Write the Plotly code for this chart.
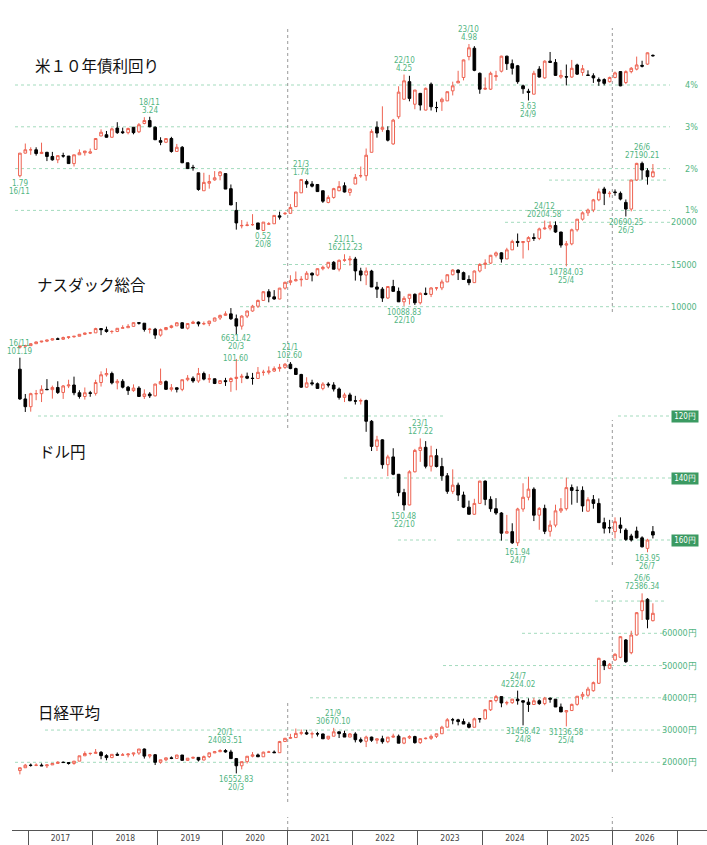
import plotly.graph_objects as go

# ---------------- categories ----------------
months = [f"{y}-{m:02d}" for y in range(2016, 2027) for m in range(1, 13)
          if (2016, 11) <= (y, m) <= (2026, 8)]
year_labels = ["2017", "2018", "2019", "2020", "2021", "2022", "2023", "2024", "2025", "2026"]

# ---------------- series (open, high, low, close) per month ----------------
ust_ohlc = [
    (1.83, 2.37, 1.79, 2.37), (2.37, 2.60, 2.36, 2.45),
    (2.45, 2.51, 2.33, 2.45), (2.45, 2.51, 2.31, 2.36), (2.36, 2.62, 2.35, 2.39), (2.39, 2.40, 2.18, 2.29),
    (2.29, 2.40, 2.19, 2.21), (2.21, 2.31, 2.13, 2.31), (2.31, 2.38, 2.26, 2.30), (2.30, 2.30, 2.12, 2.12),
    (2.12, 2.33, 2.05, 2.33), (2.33, 2.46, 2.33, 2.38), (2.38, 2.42, 2.31, 2.42), (2.37, 2.48, 2.35, 2.40),
    (2.46, 2.72, 2.46, 2.72), (2.78, 2.94, 2.78, 2.87), (2.81, 2.90, 2.74, 2.75), (2.75, 2.98, 2.74, 2.95),
    (2.97, 3.11, 2.83, 2.86), (2.88, 2.98, 2.83, 2.86), (2.86, 2.98, 2.82, 2.96), (2.99, 2.99, 2.82, 2.86),
    (2.88, 3.09, 2.85, 3.05), (3.08, 3.23, 3.06, 3.15), (3.15, 3.24, 2.99, 3.00), (2.99, 3.01, 2.69, 2.69),
    (2.67, 2.75, 2.56, 2.63), (2.63, 2.73, 2.61, 2.72), (2.72, 2.76, 2.38, 2.41), (2.41, 2.59, 2.41, 2.51),
    (2.51, 2.54, 2.13, 2.14), (2.14, 2.14, 1.99, 2.00), (2.03, 2.09, 1.95, 2.02), (1.90, 1.90, 1.47, 1.50),
    (1.47, 1.90, 1.47, 1.67), (1.65, 1.85, 1.52, 1.69), (1.73, 1.94, 1.71, 1.78), (1.83, 1.94, 1.72, 1.92),
    (1.88, 1.88, 1.51, 1.51), (1.52, 1.62, 1.13, 1.13), (1.00, 1.20, 0.54, 0.70), (0.63, 0.77, 0.57, 0.64),
    (0.64, 0.73, 0.62, 0.65), (0.66, 0.91, 0.63, 0.66), (0.70, 0.70, 0.55, 0.55), (0.52, 0.72, 0.52, 0.72),
    (0.67, 0.72, 0.65, 0.68), (0.68, 0.88, 0.68, 0.88), (0.87, 0.97, 0.78, 0.84), (0.92, 0.96, 0.89, 0.93),
    (0.93, 1.15, 0.93, 1.07), (1.09, 1.44, 1.09, 1.44), (1.42, 1.74, 1.42, 1.74), (1.69, 1.74, 1.54, 1.63),
    (1.63, 1.70, 1.55, 1.58), (1.62, 1.62, 1.44, 1.45), (1.47, 1.47, 1.18, 1.22), (1.19, 1.36, 1.17, 1.31),
    (1.31, 1.54, 1.28, 1.52), (1.47, 1.70, 1.46, 1.57), (1.59, 1.67, 1.43, 1.44), (1.43, 1.52, 1.35, 1.51),
    (1.63, 1.87, 1.63, 1.79), (1.83, 2.05, 1.78, 1.83), (1.83, 2.48, 1.71, 2.32), (2.39, 2.94, 2.39, 2.89),
    (2.99, 3.13, 2.74, 2.85), (2.94, 3.49, 2.88, 2.98), (2.91, 3.01, 2.65, 2.68), (2.59, 3.19, 2.57, 3.16),
    (3.24, 3.97, 3.19, 3.83), (3.66, 4.25, 3.65, 4.10), (4.08, 4.22, 3.61, 3.68), (3.54, 3.88, 3.42, 3.88),
    (3.80, 3.81, 3.39, 3.52), (3.40, 3.94, 3.39, 3.92), (4.02, 4.06, 3.39, 3.48), (3.46, 3.60, 3.35, 3.46),
    (3.60, 3.70, 3.38, 3.66), (3.62, 3.84, 3.62, 3.84), (3.86, 4.08, 3.75, 3.98), (4.05, 4.34, 4.05, 4.09),
    (4.18, 4.61, 4.11, 4.60), (4.68, 4.98, 4.59, 4.89), (4.88, 4.93, 4.33, 4.35), (4.28, 4.30, 3.79, 3.90),
    (3.90, 4.18, 3.88, 3.92), (3.90, 4.32, 3.88, 4.28), (4.20, 4.34, 4.10, 4.22), (4.33, 4.70, 4.30, 4.69),
    (4.69, 4.70, 4.36, 4.51), (4.51, 4.61, 4.25, 4.40), (4.46, 4.48, 4.03, 4.08), (3.98, 4.01, 3.79, 3.91),
    (3.85, 3.91, 3.63, 3.82), (3.78, 4.34, 3.78, 4.28), (4.38, 4.45, 4.18, 4.19), (4.17, 4.59, 4.15, 4.57),
    (4.57, 4.79, 4.53, 4.54), (4.54, 4.62, 4.22, 4.23), (4.19, 4.36, 4.15, 4.23), (4.20, 4.49, 3.99, 4.19),
    (4.19, 4.60, 4.17, 4.40), (4.48, 4.51, 4.24, 4.26), (4.30, 4.48, 4.22, 4.39), (4.24, 4.35, 4.22, 4.23),
    (4.22, 4.28, 4.05, 4.17), (4.13, 4.18, 3.98, 4.09), (4.13, 4.16, 3.99, 4.04), (4.08, 4.20, 4.06, 4.18),
    (4.18, 4.32, 4.16, 4.29), (4.32, 4.33, 3.97, 3.98), (4.06, 4.35, 4.02, 4.32), (4.32, 4.43, 4.28, 4.40),
    (4.38, 4.68, 4.35, 4.48), (4.47, 4.58, 4.42, 4.45), (4.50, 4.78, 4.48, 4.77), (4.71, 4.73, 4.68, 4.70),
]

nasdaq_ohlc = [
    (5200, 5380, 5034, 5323), (5323, 5487, 5323, 5383),
    (5383, 5660, 5371, 5615), (5615, 5867, 5585, 5825), (5825, 5929, 5769, 5912), (5912, 6075, 5805, 6047),
    (6047, 6219, 5997, 6198), (6198, 6342, 6080, 6140), (6140, 6460, 6080, 6348), (6348, 6444, 6177, 6429),
    (6429, 6496, 6334, 6495), (6495, 6741, 6495, 6728), (6728, 6914, 6640, 6873), (6873, 7004, 6752, 6903),
    (6903, 7505, 6903, 7411), (7411, 7437, 6630, 7273), (7273, 7637, 6920, 7063), (7063, 7205, 6805, 7066),
    (7066, 7452, 6993, 7442), (7442, 7806, 7442, 7510), (7510, 7933, 7510, 7672), (7672, 8133, 7638, 8110),
    (8110, 8133, 7877, 8046), (8046, 8048, 7050, 7306), (7306, 7487, 6831, 7331), (7331, 7486, 6191, 6635),
    (6635, 7409, 6457, 7282), (7282, 7594, 7220, 7533), (7533, 7847, 7424, 7729), (7729, 8176, 7729, 8095),
    (8095, 8164, 7451, 7453), (7453, 8063, 7292, 8006), (8006, 8339, 7965, 8175), (8175, 8245, 7662, 7963),
    (7963, 8243, 7815, 7999), (7999, 8325, 7700, 8292), (8292, 8705, 8292, 8665), (8665, 9052, 8435, 8973),
    (8973, 9451, 8944, 9151), (9151, 9838, 8436, 8567), (8567, 9070, 6631.42, 7700), (7700, 8980, 7288, 8890),
    (8890, 9523, 8656, 9490), (9490, 10222, 9403, 10059), (10059, 10840, 9850, 10745), (10745, 11829, 10691, 11775),
    (11775, 12074, 10519, 11168), (11168, 11965, 10822, 10912), (10912, 12229, 10874, 12199), (12199, 12973, 12025, 12888),
    (12888, 13728, 12543, 13071), (13071, 14175, 12985, 13192), (13192, 13620, 12397, 13247), (13247, 14211, 13181, 13962),
    (13962, 14070, 13003, 13749), (13749, 14536, 13622, 14504), (14504, 14864, 14309, 14673), (14673, 15288, 14457, 15259),
    (15259, 15403, 14432, 14448), (14448, 15598, 14182, 15498), (15498, 16212.23, 15321, 15538), (15538, 16016, 14861, 15645),
    (15645, 15901, 13094, 14240), (14240, 14619, 13021, 13751), (13751, 14646, 12555, 14221), (14221, 14370, 12331, 12335),
    (12335, 12943, 11036, 12081), (12081, 12320, 10565, 11029), (11029, 12439, 10922, 12391), (12391, 13181, 11786, 11816),
    (11816, 12270, 10576, 10576), (10576, 11240, 10088.83, 10988), (10988, 11468, 10262, 11468), (11468, 11571, 10207, 10466),
    (10466, 11691, 10265, 11585), (11585, 12270, 11362, 11456), (11456, 12311, 11139, 12222), (12222, 12294, 11925, 12227),
    (12227, 13216, 11963, 12935), (12935, 13827, 12920, 13788), (13788, 14446, 13712, 14346), (14346, 14400, 13161, 14035),
    (14035, 14162, 13179, 13219), (13219, 13715, 12544, 12851), (12851, 14289, 12851, 14226), (14226, 15150, 14058, 15011),
    (15011, 15614, 14477, 15164), (15164, 16135, 15061, 16092), (16092, 16538, 15842, 16379), (16379, 16452, 15223, 15658),
    (15658, 16976, 15655, 16735), (16735, 17936, 16724, 17733), (17733, 18672, 17099, 17599), (17599, 17784, 15708, 17714),
    (17714, 18346, 16690, 18189), (18189, 18690, 17794, 18095), (18095, 19366, 17890, 19218), (19218, 20204.58, 19138, 19311),
    (19311, 20118, 19047, 19627), (19627, 20110, 18757, 18847), (18847, 18869, 17000, 17299), (17299, 17789, 14784.03, 17446),
    (17446, 19250, 17280, 19114), (19114, 20387, 18900, 20370), (20370, 21290, 20200, 21122), (21122, 21630, 20750, 21456),
    (21456, 22770, 21200, 22660), (22660, 24000, 22500, 23620), (23950, 24200, 22040, 23430), (23400, 23700, 22950, 23440),
    (23600, 23900, 23150, 23520), (23430, 23650, 22600, 22750), (22360, 22700, 20690.25, 21570), (21570, 25050, 21300, 25010),
    (25010, 27050, 24900, 26980), (26980, 27190.21, 25050, 26190), (26110, 26400, 24460, 25400), (25400, 26900, 25300, 25990),
]

usdjpy_ohlc = [
    (104.9, 114.8, 101.19, 114.5), (114.5, 118.7, 112.9, 117.0),
    (117.0, 118.6, 112.5, 112.8), (112.8, 114.9, 111.6, 112.8), (112.8, 115.5, 110.1, 111.4), (111.4, 111.6, 108.1, 111.5),
    (111.5, 114.4, 110.2, 110.8), (110.8, 112.9, 108.8, 112.4), (112.4, 114.5, 110.0, 110.3), (110.3, 111.0, 108.3, 110.0),
    (110.0, 113.3, 107.3, 112.5), (112.5, 114.4, 111.7, 113.7), (113.7, 114.7, 110.8, 112.5), (112.5, 113.8, 111.9, 112.7),
    (112.7, 113.4, 108.3, 109.2), (109.2, 110.5, 105.6, 106.7), (106.7, 107.3, 104.6, 106.3), (106.3, 109.8, 105.7, 109.3),
    (109.3, 111.4, 108.1, 108.8), (108.8, 111.1, 108.1, 110.7), (110.7, 113.2, 110.3, 111.8), (111.8, 112.2, 109.8, 111.0),
    (111.0, 113.7, 110.4, 113.7), (113.7, 114.5, 111.4, 112.9), (112.9, 114.2, 112.3, 113.5), (113.5, 113.7, 109.6, 109.7),
    (109.7, 109.9, 104.7, 108.9), (108.9, 111.5, 108.5, 111.4), (111.4, 112.1, 109.7, 110.9), (110.9, 112.4, 110.8, 111.4),
    (111.4, 112.0, 108.3, 108.3), (108.3, 108.8, 106.8, 107.8), (107.8, 109.3, 107.2, 108.7), (108.7, 109.3, 104.5, 106.3),
    (106.3, 108.5, 105.7, 108.1), (108.1, 109.3, 106.5, 108.0), (108.0, 109.7, 107.9, 109.5), (109.5, 109.7, 108.4, 108.6),
    (108.6, 110.3, 107.7, 108.9), (108.9, 112.2, 107.5, 107.9), (107.9, 111.7, 101.6, 107.5), (107.5, 109.4, 106.4, 107.2),
    (107.2, 108.1, 106.0, 107.8), (107.8, 109.9, 106.1, 107.9), (107.9, 107.9, 104.2, 105.9), (105.9, 107.0, 105.1, 105.9),
    (105.9, 106.6, 104.0, 105.5), (105.5, 105.8, 104.0, 104.7), (104.7, 105.7, 103.2, 104.3), (104.3, 104.8, 102.9, 103.3),
    (103.3, 104.9, 102.6, 104.7), (104.7, 106.7, 104.4, 106.6), (106.6, 110.9, 106.4, 110.7), (110.7, 110.9, 107.5, 109.3),
    (109.3, 110.2, 108.3, 109.6), (109.6, 111.1, 109.2, 111.1), (111.1, 111.7, 109.1, 109.7), (109.7, 110.8, 109.1, 110.0),
    (110.0, 112.1, 109.1, 111.3), (111.3, 114.7, 110.8, 114.0), (114.0, 115.5, 112.5, 113.2), (113.2, 115.2, 112.5, 115.1),
    (115.1, 116.3, 113.5, 115.2), (115.2, 116.3, 114.4, 115.0), (115.0, 125.1, 114.7, 121.7), (121.7, 131.3, 121.3, 129.8),
    (129.8, 131.3, 126.4, 127.7), (127.7, 137.0, 127.5, 135.7), (135.7, 139.4, 132.5, 133.2), (133.2, 139.1, 130.4, 138.8),
    (138.8, 145.9, 138.7, 144.7), (144.7, 150.48, 143.5, 148.7), (148.7, 148.8, 137.5, 138.0), (138.0, 138.2, 130.6, 131.1),
    (131.1, 134.8, 127.22, 130.1), (130.1, 136.9, 128.1, 136.2), (136.2, 137.9, 129.6, 132.8), (132.8, 136.6, 130.6, 136.3),
    (136.3, 140.9, 133.5, 139.3), (139.3, 145.1, 138.4, 144.3), (144.3, 145.1, 137.2, 142.3), (142.3, 147.4, 141.5, 145.5),
    (145.5, 149.7, 144.4, 149.4), (149.4, 151.7, 147.3, 151.7), (151.7, 151.9, 146.7, 148.2), (148.2, 148.3, 140.9, 141.0),
    (141.0, 148.8, 140.8, 146.9), (146.9, 150.9, 145.9, 149.9), (149.9, 151.9, 146.5, 151.3), (151.3, 160.2, 151.0, 157.8),
    (157.8, 157.9, 151.9, 157.3), (157.3, 161.3, 154.6, 160.9), (160.9, 161.94, 149.6, 150.0), (150.0, 150.9, 141.7, 146.2),
    (146.2, 147.2, 139.6, 143.6), (143.6, 153.9, 143.0, 152.0), (152.0, 156.7, 149.4, 149.8), (149.8, 158.1, 148.6, 157.2),
    (157.2, 158.9, 153.7, 155.2), (155.2, 155.9, 148.6, 150.6), (150.6, 151.3, 146.5, 149.9), (149.9, 150.5, 139.9, 143.1),
    (143.1, 148.6, 142.1, 144.0), (144.0, 148.0, 142.7, 144.0), (144.0, 150.9, 142.7, 149.0), (150.7, 150.9, 146.2, 147.0),
    (147.0, 149.9, 145.5, 148.2), (148.2, 154.5, 146.6, 154.4), (154.4, 157.9, 152.8, 156.2), (156.0, 157.8, 153.5, 156.1),
    (157.3, 159.5, 152.7, 154.1), (155.2, 157.8, 152.7, 156.2), (156.8, 160.3, 156.2, 159.8), (158.7, 160.5, 158.0, 160.0),
    (157.1, 159.5, 155.7, 159.3), (159.3, 162.4, 158.8, 162.2), (162.7, 163.95, 159.6, 160.0), (157.3, 159.5, 155.5, 158.4),
]

nikkei_ohlc = [
    (17442, 18369, 16251, 18308), (18308, 19494, 18274, 19114),
    (19114, 19615, 18650, 19041), (19041, 19668, 18805, 19119), (19119, 19668, 18909, 18909), (18909, 19310, 18224, 19197),
    (19197, 19736, 19197, 19651), (19651, 20318, 19651, 20033), (20033, 20230, 19813, 19925), (19925, 20080, 19280, 19646),
    (19646, 20397, 19239, 20356), (20356, 22011, 20356, 22011), (22011, 23382, 21972, 22724), (22724, 22939, 22177, 22765),
    (22765, 24124, 22764, 23098), (23098, 23486, 20950, 22068), (22068, 22502, 20617, 21454), (21454, 22467, 21292, 22468),
    (22468, 23050, 22018, 22202), (22202, 22879, 22171, 22305), (22305, 22794, 21546, 22554), (22554, 22869, 21851, 22865),
    (22865, 24120, 22307, 24120), (24120, 24270, 21149, 21920), (21920, 22583, 21243, 22351), (22351, 22574, 19155, 20015),
    (20015, 20773, 19561, 20773), (20773, 21464, 20333, 21385), (21385, 21822, 20977, 21206), (21206, 22307, 21206, 22259),
    (22259, 22259, 20601, 20601), (20601, 21276, 20410, 21276), (21276, 21756, 21046, 21522), (21522, 21540, 20261, 20704),
    (20704, 22098, 20620, 21756), (21756, 22974, 21341, 22927), (22927, 23520, 22851, 23294), (23294, 24066, 23135, 23657),
    (23657, 24083.51, 22977, 23205), (23205, 23873, 21143, 21143), (21143, 21344, 16552.83, 18917), (18917, 20194, 17819, 20194),
    (20194, 21916, 19619, 21878), (21878, 23178, 21530, 22288), (22288, 22715, 21710, 21710), (21710, 23296, 21710, 23140),
    (23140, 23559, 22950, 23185), (23185, 23671, 22977, 22977), (22977, 26645, 22977, 26434), (26434, 27568, 26434, 27444),
    (27444, 28822, 27259, 27663), (27663, 30468, 27663, 28966), (28966, 30168, 28409, 29179), (29179, 30089, 28508, 28813),
    (28813, 29518, 27448, 28860), (28860, 29441, 28010, 28792), (28792, 28884, 27283, 27284), (27284, 28090, 26963, 28090),
    (28090, 30670.10, 28089, 29453), (29453, 29453, 27528, 28893), (28893, 29808, 27822, 27822), (27822, 29069, 27821, 28792),
    (28792, 29332, 26170, 27002), (27002, 27696, 25971, 26527), (26527, 28252, 24717, 27821), (27821, 27944, 26334, 26848),
    (26848, 27401, 25748, 27280), (27280, 28246, 25771, 26393), (26393, 27815, 25935, 27802), (27802, 28871, 27594, 28092),
    (28092, 28615, 25937, 25937), (25937, 27587, 25621, 27587), (27587, 28383, 27199, 27969), (27969, 28226, 25770, 26095),
    (26095, 27433, 25717, 27327), (27327, 27696, 27102, 27446), (27446, 28623, 26945, 28041), (28041, 28856, 27519, 28856),
    (28856, 31328, 28851, 30888), (30888, 33706, 30888, 33189), (33189, 33753, 31791, 33172), (33172, 33488, 31450, 32619),
    (32619, 33533, 31858, 31858), (31858, 32533, 30527, 30859), (30859, 33853, 30859, 33487), (33487, 33681, 32307, 33464),
    (33464, 36546, 33289, 36287), (36287, 39239, 35910, 39166), (39166, 40888, 38585, 40369), (40369, 40369, 37068, 38406),
    (38406, 39070, 37703, 38488), (38488, 39631, 38102, 39583), (39583, 42224.02, 37869, 39102), (39102, 39102, 31458.42, 38648),
    (38648, 39829, 35619, 37920), (37920, 39981, 37808, 39081), (39081, 39500, 37798, 38208), (38208, 40281, 37697, 39895),
    (39895, 40083, 38474, 39572), (39572, 39572, 37156, 37156), (37156, 38220, 35618, 35618), (35618, 36045, 31136.58, 36045),
    (36045, 38173, 36045, 37965), (37965, 40487, 37560, 40487), (40487, 41826, 39420, 41070), (40800, 43400, 40300, 42700),
    (42200, 45050, 41900, 44700), (44500, 52400, 44300, 52250), (51400, 51700, 48600, 49950), (49150, 50800, 48900, 50390),
    (51720, 53800, 51500, 53490), (52560, 59100, 52300, 58950), (57930, 58200, 50800, 51190), (53980, 60800, 53500, 59470),
    (59470, 66600, 59300, 66390), (67010, 72386.34, 64120, 70110), (70550, 70900, 61550, 64340), (63910, 69300, 63700, 66200),
]

# extreme-value labels: (month, value text, date text, above?, extra pixel shift)
ust_marks = [("2016-11", "1.79", "16/11", False, 0), ("2018-11", "3.24", "18/11", True, 0),
             ("2020-08", "0.52", "20/8", False, 0), ("2021-03", "1.74", "21/3", True, 0),
             ("2022-10", "4.25", "22/10", True, 0), ("2023-10", "4.98", "23/10", True, 0),
             ("2024-09", "3.63", "24/9", False, 0)]
nasdaq_marks = [("2020-03", "6631.42", "20/3", False, 3), ("2021-11", "16212.23", "21/11", True, 0),
                ("2022-10", "10088.83", "22/10", False, 0), ("2024-12", "20204.58", "24/12", True, 0),
                ("2025-04", "14784.03", "25/4", False, 0), ("2026-03", "20690.25", "26/3", False, 0),
                ("2026-06", "27190.21", "26/6", True, 0)]
usdjpy_marks = [("2016-11", "101.19", "16/11", True, 0), ("2020-03", "101.60", None, True, -6),
                ("2021-01", "102.60", "21/1", True, 0), ("2023-01", "127.22", "23/1", True, 0),
                ("2022-10", "150.48", "22/10", False, 0), ("2024-07", "161.94", "24/7", False, 0),
                ("2026-07", "163.95", "26/7", False, 0)]
nikkei_marks = [("2020-01", "24083.51", "20/1", True, 2), ("2020-03", "16552.83", "20/3", False, 0),
                ("2021-09", "30670.10", "21/9", True, 0), ("2024-07", "42224.02", "24/7", True, 0),
                ("2024-08", "31458.42", "24/8", False, 0), ("2025-04", "31136.58", "25/4", False, 0),
                ("2026-06", "72386.34", "26/6", True, 0)]

ust_ticks = [4, 3, 2, 1]
nasdaq_ticks = [20000, 15000, 10000]
usdjpy_ticks = [120, 140, 160]
nikkei_ticks = [60000, 50000, 40000, 30000, 20000]

# ---------------- styling ----------------
W, H = 707, 845
RED = "#ee6352"
GREEN = "#52b582"
GRID = "#a3dbbd"
VLINE = "#9a9a9a"
YENBOX = "#3b9a62"
NUMFONT = "Liberation Sans Narrow, DejaVu Sans Condensed, Arial Narrow, sans-serif"
JPFONT = "Noto Sans CJK JP, Noto Sans, sans-serif"

x = list(range(len(months)))
idx = {m: i for i, m in enumerate(months)}

red_style = dict(line=dict(color=RED, width=1), fillcolor="white")
black_style = dict(line=dict(color="black", width=1), fillcolor="black")


def candle(rows, yaxis, inverted=False):
    o, h, l, c = zip(*rows)
    inc, dec = (black_style, red_style) if inverted else (red_style, black_style)
    return go.Candlestick(x=x, open=o, high=h, low=l, close=c, yaxis=yaxis,
                          increasing=inc, decreasing=dec, whiskerwidth=0,
                          hoverinfo="skip", showlegend=False)


fig = go.Figure()
fig.add_trace(candle(ust_ohlc, "y"))
fig.add_trace(candle(nasdaq_ohlc, "y2"))
fig.add_trace(candle(usdjpy_ohlc, "y3", inverted=True))
fig.add_trace(candle(nikkei_ohlc, "y4"))


def yrange(v_ref, px_ref, px_per_unit):
    # value at bottom (px=H) and top (px=0) of the page
    return [v_ref - (H - px_ref) / px_per_unit, v_ref + px_ref / px_per_unit]


hidden = dict(domain=[0, 1], visible=False, fixedrange=True, showgrid=False, zeroline=False)
fig.update_layout(
    width=W, height=H, margin=dict(l=0, r=0, t=0, b=0),
    paper_bgcolor="white", plot_bgcolor="white",
    boxgap=0.3,
    xaxis=dict(domain=[12 / W, 1], range=[-1.46, 127.0], anchor="free", position=1 - 830 / H,
               showline=True, linecolor="#555", linewidth=1, showgrid=False, zeroline=False,
               tickmode="array", tickvals=[7.5 + 12 * k for k in range(10)], ticktext=year_labels,
               ticks="", tickfont=dict(family=NUMFONT, size=8.5, color="#444"),
               minor=dict(tickmode="array", tickvals=[1.5 + 12 * k for k in range(11)],
                          ticks="outside", ticklen=15, tickcolor="#555", tickwidth=1, showgrid=False),
               rangeslider=dict(visible=False), fixedrange=True),
    yaxis=dict(range=yrange(4, 85, 41.8), **hidden),
    yaxis2=dict(range=yrange(10000, 306.7, 0.00844), overlaying="y", **hidden),
    yaxis3=dict(range=[120 + (H - 416) / 3.1, 120 - 416 / 3.1], overlaying="y", **hidden),
    yaxis4=dict(range=yrange(20000, 762.3, 0.003225), overlaying="y", **hidden),
)

shapes = []


def hgrid(yref, v, x0, x1):
    shapes.append(dict(type="line", xref="paper", x0=x0 / W, x1=x1 / W, yref=yref, y0=v, y1=v,
                       line=dict(color=GRID, width=1, dash="dot"), layer="below"))


for v in ust_ticks:
    hgrid("y", v, 15, 670)
hgrid("y2", 25000, 549, 667)
hgrid("y2", 20000, 505, 670)
hgrid("y2", 15000, 283, 670)
hgrid("y2", 10000, 240, 670)
hgrid("y3", 120, 38, 443)
hgrid("y3", 120, 618, 672)
hgrid("y3", 140, 344, 672)
hgrid("y3", 160, 398, 436)
hgrid("y3", 160, 457, 672)
hgrid("y4", 70000, 595, 667)
hgrid("y4", 60000, 522, 667)
hgrid("y4", 50000, 443, 667)
hgrid("y4", 40000, 310, 667)
hgrid("y4", 30000, 45, 667)
hgrid("y4", 20000, 15, 667)

vsegments = [(49.5, [(28, 428), (703, 802), (817, 830)]),
             (109.5, [(28, 312), (420, 565), (590, 772), (817, 830)])]
for xv, segs in vsegments:
    for a, b in segs:
        shapes.append(dict(type="line", xref="x", x0=xv, x1=xv, yref="paper",
                           y0=1 - b / H, y1=1 - a / H,
                           line=dict(color=VLINE, width=1, dash="dot"), layer="below"))
fig.update_layout(shapes=shapes)

ann = []

# panel titles
for text, px_x, px_y in [("米１０年債利回り", 33, 65), ("ナスダック総合", 35, 284),
                         ("ドル円", 37, 451), ("日経平均", 36, 712)]:
    ann.append(dict(text=text, xref="paper", yref="paper", x=px_x / W, y=1 - px_y / H,
                    xanchor="left", yanchor="middle", showarrow=False,
                    font=dict(family=JPFONT, size=15.5, color="#111")))

# right-hand scale labels
for v in ust_ticks:
    ann.append(dict(text=f"{v}%", xref="paper", yref="y", x=700 / W, y=v, xanchor="right",
                    yanchor="middle", showarrow=False, font=dict(family=NUMFONT, size=9, color=GREEN)))
for v in nasdaq_ticks:
    ann.append(dict(text=f"{v}", xref="paper", yref="y2", x=699 / W, y=v, xanchor="right",
                    yanchor="middle", showarrow=False, font=dict(family=NUMFONT, size=9, color=GREEN)))
for v in usdjpy_ticks:
    ann.append(dict(text=f"{v}円", xref="paper", yref="y3", x=699 / W, y=v, xanchor="right",
                    yanchor="middle", showarrow=False, bgcolor=YENBOX, borderpad=1, width=24,
                    font=dict(family=NUMFONT, size=8, color="white")))
for v in nikkei_ticks:
    ann.append(dict(text=f"{v}円", xref="paper", yref="y4", x=699 / W, y=v, xanchor="right",
                    yanchor="middle", showarrow=False, font=dict(family=NUMFONT, size=9, color=GREEN)))


def marks(rows, marklist, yref):
    for m, val, date, above, extra in marklist:
        i = idx[m]
        yv = float(val)
        lines = [val] if date is None else [val, date]
        for k, t in enumerate(lines):
            shift = 1 + 8 * k
            ann.append(dict(text=t, xref="x", yref=yref, x=i, y=yv, showarrow=False,
                            xanchor="center", yanchor="bottom" if above else "top",
                            yshift=(shift if above else -shift) + extra, borderpad=0,
                            font=dict(family=NUMFONT, size=8, color=GREEN)))


marks(ust_ohlc, ust_marks, "y")
marks(nasdaq_ohlc, nasdaq_marks, "y2")
marks(usdjpy_ohlc, usdjpy_marks, "y3")
marks(nikkei_ohlc, nikkei_marks, "y4")

fig.update_layout(annotations=ann)
fig.write_html("out.html", config={"displayModeBar": False},
               post_script="document.body.style.margin='0';document.body.style.padding='0';")
